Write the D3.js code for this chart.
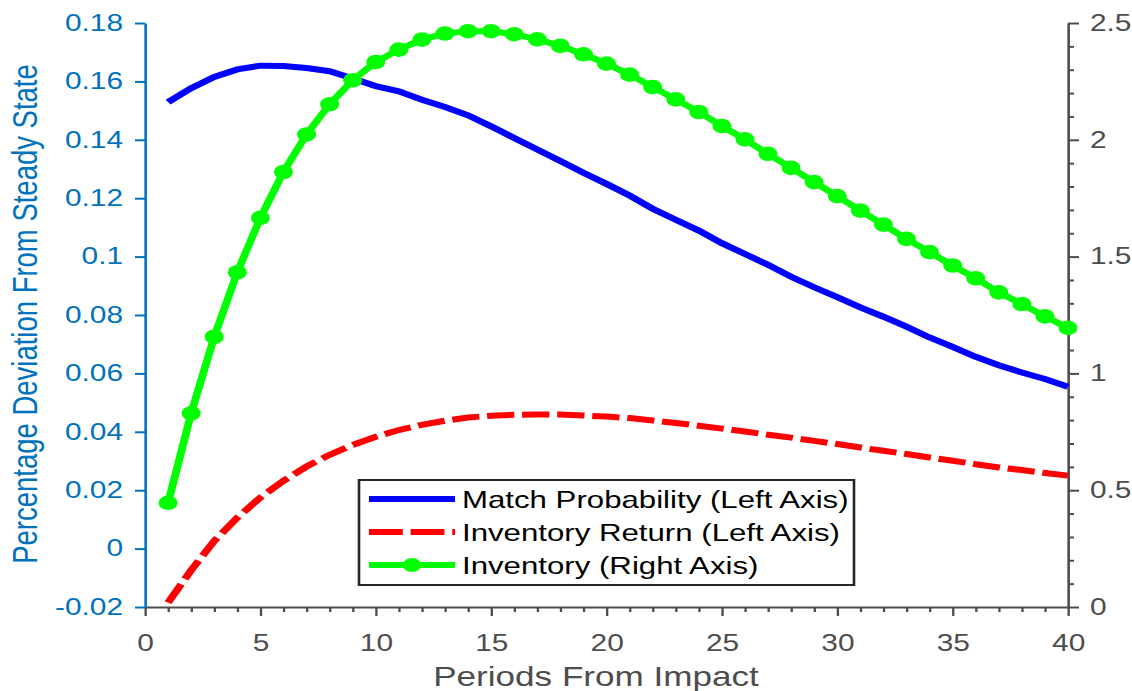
<!DOCTYPE html>
<html>
<head>
<meta charset="utf-8">
<script src="https://cdn.jsdelivr.net/npm/d3@7"></script>
<style>
  html, body { margin: 0; padding: 0; background: #fff; }
  svg { display: block; font-family: "Liberation Sans", Arial, Helvetica, sans-serif; }
</style>
</head>
<body>
<svg id="chart" width="1132" height="691"></svg>
<script>
// periods after the shock
const periods = [1, 2, 3, 4, 5, 6, 7, 8, 9, 10, 11, 12, 13, 14, 15, 16, 17, 18, 19, 20,
                 21, 22, 23, 24, 25, 26, 27, 28, 29, 30, 31, 32, 33, 34, 35, 36, 37, 38, 39, 40];

// left axis series
const matchProb = [0.1529, 0.1577, 0.1615, 0.1641, 0.1654, 0.1653, 0.1646, 0.1635, 0.1610, 0.1584,
                   0.1566, 0.1537, 0.1512, 0.1484, 0.1446, 0.1406, 0.1367, 0.1327, 0.1287, 0.1249,
                   0.1209, 0.1164, 0.1126, 0.1089, 0.1046, 0.1009, 0.0972, 0.0931, 0.0895, 0.0861,
                   0.0826, 0.0794, 0.0760, 0.0723, 0.0691, 0.0657, 0.0628, 0.0603, 0.0581, 0.0554];
const invReturn = [-0.0185, -0.0074, 0.0026, 0.0106, 0.0175, 0.0232, 0.0281, 0.0321, 0.0355, 0.0383,
                   0.0406, 0.0424, 0.0438, 0.0449, 0.0455, 0.0458, 0.0459, 0.0459, 0.0456, 0.0452,
                   0.0447, 0.0439, 0.0430, 0.0421, 0.0411, 0.0401, 0.0390, 0.0380, 0.0369, 0.0358,
                   0.0346, 0.0335, 0.0324, 0.0312, 0.0301, 0.0289, 0.0278, 0.0269, 0.0259, 0.0250];

// right axis series
const inventory = [0.446, 0.829, 1.157, 1.433, 1.666, 1.862, 2.023, 2.152, 2.255, 2.333,
                   2.386, 2.429, 2.455, 2.465, 2.465, 2.452, 2.430, 2.402, 2.366, 2.326,
                   2.279, 2.226, 2.173, 2.119, 2.059, 2.002, 1.940, 1.880, 1.819, 1.759,
                   1.697, 1.637, 1.576, 1.519, 1.462, 1.407, 1.347, 1.297, 1.244, 1.195];

// ticks
const xTicks = [0, 5, 10, 15, 20, 25, 30, 35, 40];
const xMinorTicks = [1, 2, 3, 4, 6, 7, 8, 9, 11, 12, 13, 14, 16, 17, 18, 19, 21, 22, 23, 24,
                     26, 27, 28, 29, 31, 32, 33, 34, 36, 37, 38, 39];
const leftTicks = [-0.02, 0, 0.02, 0.04, 0.06, 0.08, 0.1, 0.12, 0.14, 0.16, 0.18];
const leftTickLabels = ["-0.02", "0", "0.02", "0.04", "0.06", "0.08", "0.1", "0.12", "0.14", "0.16", "0.18"];
const rightTicks = [0, 0.5, 1, 1.5, 2, 2.5];
const rightTickLabels = ["0", "0.5", "1", "1.5", "2", "2.5"];
const rightMinorTicks = [0.1, 0.2, 0.3, 0.4, 0.6, 0.7, 0.8, 0.9, 1.1, 1.2, 1.3, 1.4,
                         1.6, 1.7, 1.8, 1.9, 2.1, 2.2, 2.3, 2.4];

const legendLabels = ["Match Probability (Left Axis)", "Inventory Return (Left Axis)", "Inventory (Right Axis)"];

// the picture is a bit wider than tall, so everything is drawn in a horizontally stretched group
const SX = 1.3;
const plot = {left: 145 / SX, right: 1068 / SX, top: 23, bottom: 607};

const leftBlue = "#0072BD";
const axisGray = "#4d4d4d";

const svg = d3.select("#chart");
const g = svg.append("g").attr("transform", `scale(${SX},1)`);

const x = d3.scaleLinear().domain([0, 40]).range([plot.left, plot.right]);
const yL = d3.scaleLinear().domain([-0.02, 0.18]).range([plot.bottom, plot.top]);
const yR = d3.scaleLinear().domain([0, 2.5]).range([plot.bottom, plot.top]);

// x axis
g.append("g")
    .attr("transform", `translate(0,${plot.bottom})`)
    .call(d3.axisBottom(x).tickValues(xMinorTicks).tickSize(5).tickFormat(""))
    .call(a => a.select(".domain").remove())
    .call(a => a.selectAll("line").attr("stroke", axisGray).attr("stroke-width", 1.8));

g.append("g")
    .attr("class", "x-axis")
    .attr("transform", `translate(0,${plot.bottom})`)
    .call(d3.axisBottom(x).tickValues(xTicks).tickSize(9).tickSizeOuter(0).tickPadding(19))
    .call(a => a.select(".domain").attr("stroke", axisGray).attr("stroke-width", 2.2))
    .call(a => a.selectAll("line").attr("stroke", axisGray).attr("stroke-width", 1.8))
    .call(a => a.selectAll("text").attr("fill", axisGray).attr("font-size", 23));

// left axis
g.append("g")
    .attr("transform", `translate(${plot.left},0)`)
    .call(d3.axisLeft(yL).tickValues(leftTicks).tickSize(10 / SX).tickSizeOuter(0).tickPadding(9.2)
        .tickFormat((d, i) => leftTickLabels[i]))
    .call(a => a.select(".domain").attr("stroke", leftBlue).attr("stroke-width", 2))
    .call(a => a.selectAll("line").attr("stroke", leftBlue).attr("stroke-width", 2))
    .call(a => a.selectAll("text").attr("fill", leftBlue).attr("font-size", 23));

// right axis
g.append("g")
    .attr("transform", `translate(${plot.right},0)`)
    .call(d3.axisRight(yR).tickValues(rightMinorTicks).tickSize(6 / SX).tickFormat(""))
    .call(a => a.select(".domain").remove())
    .call(a => a.selectAll("line").attr("stroke", axisGray).attr("stroke-width", 2));

g.append("g")
    .attr("transform", `translate(${plot.right},0)`)
    .call(d3.axisRight(yR).tickValues(rightTicks).tickSize(11 / SX).tickSizeOuter(0).tickPadding(8.4)
        .tickFormat((d, i) => rightTickLabels[i]))
    .call(a => a.select(".domain").attr("stroke", axisGray).attr("stroke-width", 2))
    .call(a => a.selectAll("line").attr("stroke", axisGray).attr("stroke-width", 2))
    .call(a => a.selectAll("text").attr("fill", axisGray).attr("font-size", 23));

// axis titles
g.append("text")
    .attr("transform", `translate(${37 / SX},314) rotate(-90)`)
    .attr("text-anchor", "middle")
    .attr("font-size", 27.5)
    .attr("fill", leftBlue)
    .text("Percentage Deviation From Steady State");

g.append("text")
    .attr("x", 596 / SX)
    .attr("y", 686)
    .attr("text-anchor", "middle")
    .attr("font-size", 27)
    .attr("fill", axisGray)
    .text("Periods From Impact");

// series
const lineLeft = vals => d3.line().x((d, i) => x(periods[i])).y(d => yL(d))(vals);
const lineRight = vals => d3.line().x((d, i) => x(periods[i])).y(d => yR(d))(vals);

g.append("path")
    .attr("d", lineLeft(matchProb))
    .attr("fill", "none")
    .attr("stroke", "#0000ff")
    .attr("stroke-width", 6);

g.append("path")
    .attr("d", lineLeft(invReturn))
    .attr("fill", "none")
    .attr("stroke", "#ff0000")
    .attr("stroke-width", 6)
    .attr("stroke-dasharray", "21,6");

g.append("path")
    .attr("d", lineRight(inventory))
    .attr("fill", "none")
    .attr("stroke", "#00ff00")
    .attr("stroke-width", 6);

g.append("g")
    .selectAll("circle")
    .data(inventory)
    .join("circle")
    .attr("cx", (d, i) => x(periods[i]))
    .attr("cy", d => yR(d))
    .attr("r", 7.3)
    .attr("fill", "#00ff00");

// legend
const legend = g.append("g").attr("transform", `translate(${359 / SX},480)`);
legend.append("rect")
    .attr("width", (854 - 359) / SX)
    .attr("height", 105)
    .attr("fill", "#fff")
    .attr("stroke", "#262626")
    .attr("stroke-width", 2);

const legendRows = legend.selectAll("g.row")
    .data(legendLabels)
    .join("g")
    .attr("class", "row")
    .attr("transform", (d, i) => `translate(0,${19 + i * 33})`);

legendRows.append("line")
    .attr("x1", 10 / SX)
    .attr("x2", 96 / SX)
    .attr("stroke", (d, i) => ["#0000ff", "#ff0000", "#00ff00"][i])
    .attr("stroke-width", 6)
    .attr("stroke-dasharray", (d, i) => i === 1 ? "26,6" : null);

legendRows.filter((d, i) => i === 2)
    .append("circle")
    .attr("cx", 53 / SX)
    .attr("r", 7)
    .attr("fill", "#00ff00");

legendRows.append("text")
    .attr("x", 103 / SX)
    .attr("y", 9)
    .attr("font-size", 24)
    .attr("fill", "#000")
    .text(d => d);
</script>
</body>
</html>
